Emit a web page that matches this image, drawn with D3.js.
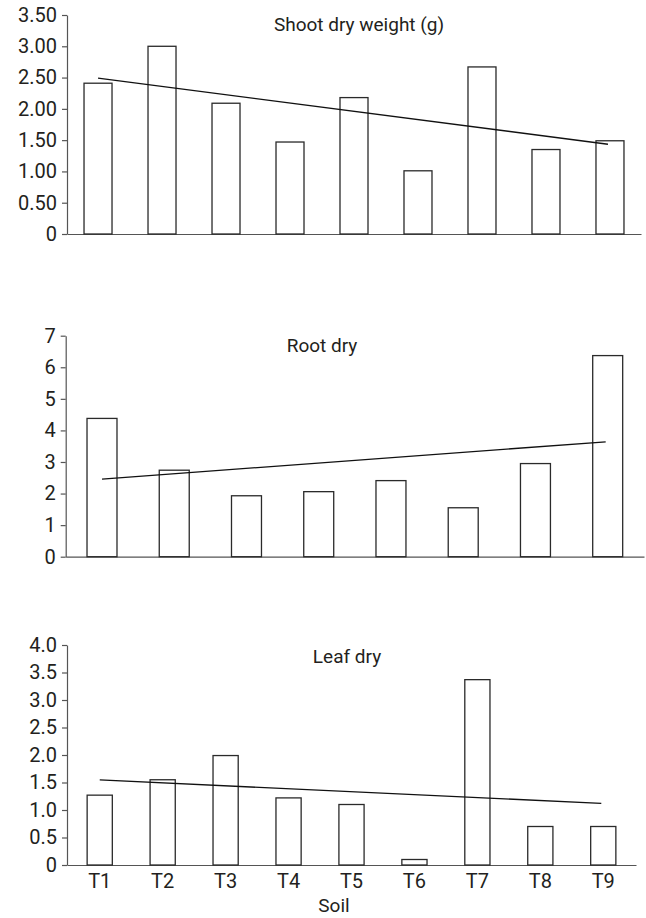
<!DOCTYPE html>
<html>
<head>
<meta charset="utf-8">
<script src="https://cdn.jsdelivr.net/npm/d3@7"></script>
<style>
  body { margin: 0; background: #fff; }
  text { font-family: Roboto, "Liberation Sans", sans-serif; fill: #231f20; }
  .axis path, .axis line { stroke: #555; stroke-width: 1.2; }
  .axis text { font-size: 20px; }
</style>
</head>
<body>
<div class="soil-plot"></div>
<script>
//DATA
const soil = ['T1', 'T2', 'T3', 'T4', 'T5', 'T6', 'T7', 'T8', 'T9'];
const rootSoil = ['T1', 'T2', 'T3', 'T4', 'T5', 'T6', 'T7', 'T8']; // root panel only has 8 bars

const shootWeight = [2.41, 3.00, 2.09, 1.47, 2.18, 1.01, 2.67, 1.35, 1.49];
const rootWeight = [4.38, 2.74, 1.93, 2.06, 2.41, 1.55, 2.95, 6.37];
const leafWeight = [1.27, 1.55, 1.99, 1.22, 1.10, 0.10, 3.37, 0.70, 0.70];

const shootTicks = [0, 0.5, 1, 1.5, 2, 2.5, 3, 3.5];
const shootTickLabels = ['0', '0.50', '1.00', '1.50', '2.00', '2.50', '3.00', '3.50'];
const rootTicks = [0, 1, 2, 3, 4, 5, 6, 7];
const rootTickLabels = ['0', '1', '2', '3', '4', '5', '6', '7'];
const leafTicks = [0, 0.5, 1, 1.5, 2, 2.5, 3, 3.5, 4];
const leafTickLabels = ['0', '0.5', '1.0', '1.5', '2.0', '2.5', '3.0', '3.5', '4.0'];

//CHART INIT
let outerWidth = 646;
let outerHeight = 918;
let svg = d3.select('.soil-plot').append('svg')
    .attr('width', outerWidth)
    .attr('height', outerHeight);

// least squares line through the bars (like the excel linear trendline)
function trend(values) {
    let xs = values.map((d, i) => i + 1);
    let mx = d3.mean(xs), my = d3.mean(values);
    let slope = d3.sum(xs, (x, i) => (x - mx) * (values[i] - my)) / d3.sum(xs, x => (x - mx) * (x - mx));
    return x => my + slope * (x - mx);
}

function drawPanel(p) {
    let g = svg.append('g');

    const xScale = d3.scaleBand()
        .domain(p.cats)
        .range([p.left, p.right])
        .paddingInner(p.padIn)
        .paddingOuter(p.padOut);

    const yScale = d3.scaleLinear()
        .domain([0, p.max])
        .range([p.bottom, p.top]);

    // y axis
    g.append('g')
        .attr('class', 'axis y-axis')
        .attr('transform', `translate(${p.left}, 0)`)
        .call(d3.axisLeft(yScale)
            .tickValues(p.ticks)
            .tickFormat((d, i) => p.tickLabels[i])
            .tickSize(5)
            .tickSizeOuter(0)
            .tickPadding(5));

    // x axis, just the line (+ labels on the last panel)
    let xAxis = g.append('g')
        .attr('class', 'axis x-axis')
        .attr('transform', `translate(0, ${p.bottom})`)
        .call(d3.axisBottom(xScale).tickSize(0).tickSizeOuter(0));
    if (!p.showLabels) xAxis.selectAll('.tick text').remove();
    else xAxis.selectAll('.tick text').attr('y', 23).attr('dy', 0);

    g.selectAll('rect')
        .data(p.values)
        .enter()
        .append('rect')
        .attr('x', (d, i) => xScale(p.cats[i]))
        .attr('y', d => yScale(d))
        .attr('width', xScale.bandwidth())
        .attr('height', d => p.bottom - yScale(d))
        .attr('fill', '#fff')
        .attr('stroke', '#2a2a2a')
        .attr('stroke-width', 1.3);

    // trendline from first to last bar centre
    let fit = trend(p.values);
    let n = p.values.length;
    let cx = i => xScale(p.cats[i]) + xScale.bandwidth() / 2;
    g.append('line')
        .attr('x1', cx(0))
        .attr('y1', yScale(fit(1)))
        .attr('x2', cx(n - 1) - 2)
        .attr('y2', yScale(fit(n)))
        .attr('stroke', '#111')
        .attr('stroke-width', 1.3);

    g.append('text')
        .attr('x', p.titleX)
        .attr('y', p.titleY)
        .attr('text-anchor', 'middle')
        .style('font-size', '19px')
        .text(p.title);
}

drawPanel({
    cats: soil, values: shootWeight, max: 3.5,
    ticks: shootTicks, tickLabels: shootTickLabels,
    left: 67, right: 641, padIn: 0.5625, padOut: 0.266,
    top: 15, bottom: 234,
    title: 'Shoot dry weight (g)', titleX: 359, titleY: 31
});

drawPanel({
    cats: rootSoil, values: rootWeight, max: 7,
    ticks: rootTicks, tickLabels: rootTickLabels,
    left: 65.7, right: 644, padIn: 0.585, padOut: 0.295,
    top: 335.7, bottom: 556.7,
    title: 'Root dry', titleX: 322, titleY: 352
});

drawPanel({
    cats: soil, values: leafWeight, max: 4,
    ticks: leafTicks, tickLabels: leafTickLabels,
    left: 67, right: 636, padIn: 0.6, padOut: 0.32,
    top: 645, bottom: 865,
    title: 'Leaf dry', titleX: 347, titleY: 663,
    showLabels: true
});

// x axis title
svg.append('text')
    .attr('x', 334)
    .attr('y', 912)
    .attr('text-anchor', 'middle')
    .style('font-size', '19px')
    .text('Soil');
</script>
</body>
</html>
